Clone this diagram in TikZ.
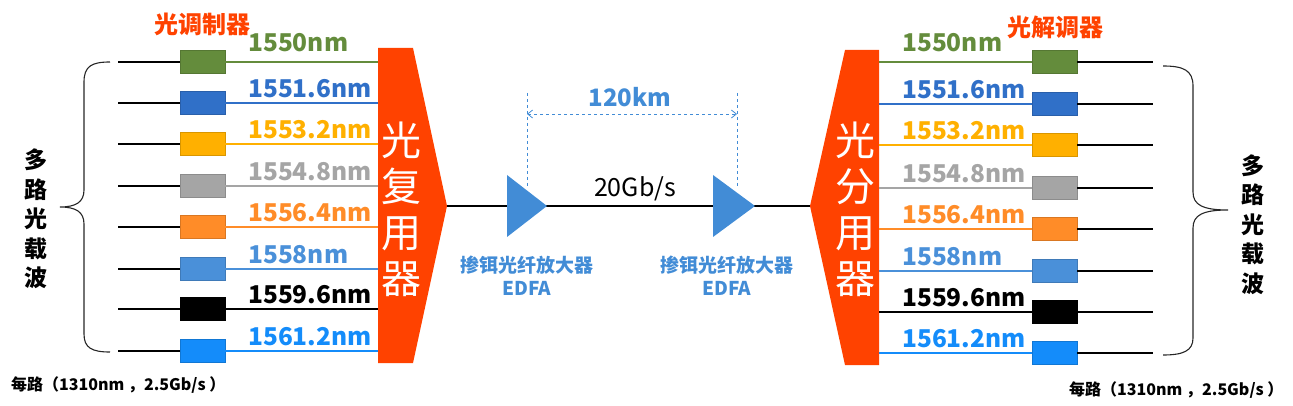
\documentclass[tikz,border=0pt]{standalone}
\usepackage{fontspec}
\setmainfont{Noto Sans CJK SC}
\usetikzlibrary{arrows.meta}
\definecolor{muxred}{RGB}{255,66,0}
\definecolor{edfablue}{RGB}{66,140,214}
\definecolor{cA}{RGB}{100,140,60}
\definecolor{cB}{RGB}{48,112,200}
\definecolor{cC}{RGB}{255,176,0}
\definecolor{cD}{RGB}{165,165,165}
\definecolor{cE}{RGB}{255,140,40}
\definecolor{cF}{RGB}{74,144,217}
\definecolor{cG}{RGB}{0,0,0}
\definecolor{cH}{RGB}{20,140,250}
\tikzset{
  chbox/.style={draw=#1!85!black, fill=#1, minimum width=45pt, minimum height=23pt, inner sep=0pt, line width=0.6pt},
  wl/.style={font=\fontsize{24.5}{30}\selectfont\bfseries, inner sep=0pt, anchor=west},
  fibre/.style={line width=1.4pt},
  muxtext/.style={font=\fontsize{40}{46}\selectfont, text=white, align=center, inner sep=0pt},
  sidetext/.style={font=\fontsize{23}{29.5}\selectfont\bfseries, align=center, inner sep=0pt},
  notetext/.style={font=\fontsize{16}{18}\selectfont\bfseries, inner sep=0pt, anchor=west},
  edfalabel/.style={font=\fontsize{19}{23}\selectfont\bfseries, text=edfablue, align=center, inner sep=0pt},
  dim/.style={edfablue, dashed, line width=0.8pt},
  bracestyle/.style={line width=1.1pt, black!85}
}
\begin{document}
\begin{tikzpicture}[x=1pt,y=-1pt]
\useasboundingbox (0,0) rectangle (1293,406);
% multiplexer and demultiplexer
\coordinate (muxtip) at (447,206);
\coordinate (demuxtip) at (810,206);
\fill[muxred] (378,48) -- (413,48) -- (muxtip) -- (413,363) -- (378,363) -- cycle;
\fill[muxred] (845,50) -- (879,50) -- (879,365) -- (845,365) -- (demuxtip) -- cycle;
\node[muxtext] (muxlabel) at (401,209) {光\\复\\用\\器};
\node[muxtext] (demuxlabel) at (855,209) {光\\分\\用\\器};
% channels
\foreach \c/\t/\yl/\yr/\dy [count=\i] in {cA/1550nm/62/62/19, cB/1551.6nm/103/104/14, cC/1553.2nm/144/145/14, cD/1554.8nm/186/188/14, cE/1556.4nm/227/229/14, cF/1558nm/269/271/14, cG/1559.6nm/309/312/14, cH/1561.2nm/351/353/14}{
  \node[chbox=\c] (L\i) at (202.5,\yl) {};
  \coordinate (Ls\i) at (118,\yl);
  \coordinate (Le\i) at (378,\yl);
  \draw[fibre, black] (Ls\i) -- (L\i.west);
  \draw[fibre, \c] (L\i.east) -- (Le\i);
  \node[wl, text=\c] (Lt\i) at (248,{\yl-\dy}) {\t};
  \node[chbox=\c] (R\i) at (1054.5,\yr) {};
  \coordinate (Rs\i) at (879,\yr);
  \coordinate (Re\i) at (1153,\yr);
  \draw[fibre, \c] (Rs\i) -- (R\i.west);
  \draw[fibre, black] (R\i.east) -- (Re\i);
  \node[wl, text=\c] (Rt\i) at (902,{\yr-\dy}) {\t};
}
\node[font=\fontsize{24}{28}\selectfont\bfseries, text=muxred, inner sep=0pt] (mod) at (202,24) {光调制器};
\node[font=\fontsize{24}{28}\selectfont\bfseries, text=muxred, inner sep=0pt] (demod) at (1055,27) {光解调器};
% trunk line and amplifiers
\draw[fibre, black] (muxtip) -- (demuxtip);
\coordinate (A1) at (507,175); \coordinate (A1tip) at (547,206); \coordinate (A1b) at (507,237);
\coordinate (A2) at (713,175); \coordinate (A2tip) at (755,206); \coordinate (A2b) at (713,237);
\fill[edfablue] (A1) -- (A1tip) -- (A1b) -- cycle;
\fill[edfablue] (A2) -- (A2tip) -- (A2b) -- cycle;
\node[edfalabel] (e1) at (527,276) {掺铒光纤放大器\\EDFA};
\node[edfalabel] (e2) at (727,276) {掺铒光纤放大器\\EDFA};
\node[font=\fontsize{25}{29}\selectfont, inner sep=0pt] (rate) at (635,189) {20Gb/s};
% distance dimension
\coordinate (d1t) at (527,93); \coordinate (d1b) at (527,188);
\coordinate (d2t) at (737,93); \coordinate (d2b) at (737,188);
\coordinate (d1m) at (527,114); \coordinate (d2m) at (737,114);
\draw[dim] (d1t) -- (d1b);
\draw[dim] (d2t) -- (d2b);
\draw[dim, {Straight Barb[length=5pt,width=8pt]}-{Straight Barb[length=5pt,width=8pt]}] (d1m) -- (d2m);
\node[font=\fontsize{24}{29}\selectfont\bfseries, text=edfablue, inner sep=0pt] (dist) at (630,97) {120km};
% braces
\draw[bracestyle] (110,62) .. controls (92,62) and (84,66) .. (84,82) -- (84,190) .. controls (84,202) and (76,207) .. (60,207)
                  .. controls (76,207) and (84,212) .. (84,224) -- (84,334) .. controls (84,348) and (92,352) .. (110,352);
\draw[bracestyle] (1163,66) .. controls (1183,66) and (1193,70) .. (1193,86) -- (1193,192) .. controls (1193,205) and (1203,210) .. (1228,210)
                  .. controls (1203,210) and (1193,215) .. (1193,228) -- (1193,338) .. controls (1193,351) and (1183,355) .. (1163,355);
\node[sidetext] (carrL) at (36,219) {多\\路\\光\\载\\波};
\node[sidetext] (carrR) at (1253,224.5) {多\\路\\光\\载\\波};
\node[notetext] (noteL) at (11,385) {每路（1310nm ，2.5Gb/s ）};
\node[notetext] (noteR) at (1069,390) {每路（1310nm ，2.5Gb/s ）};
\end{tikzpicture}
\end{document}
